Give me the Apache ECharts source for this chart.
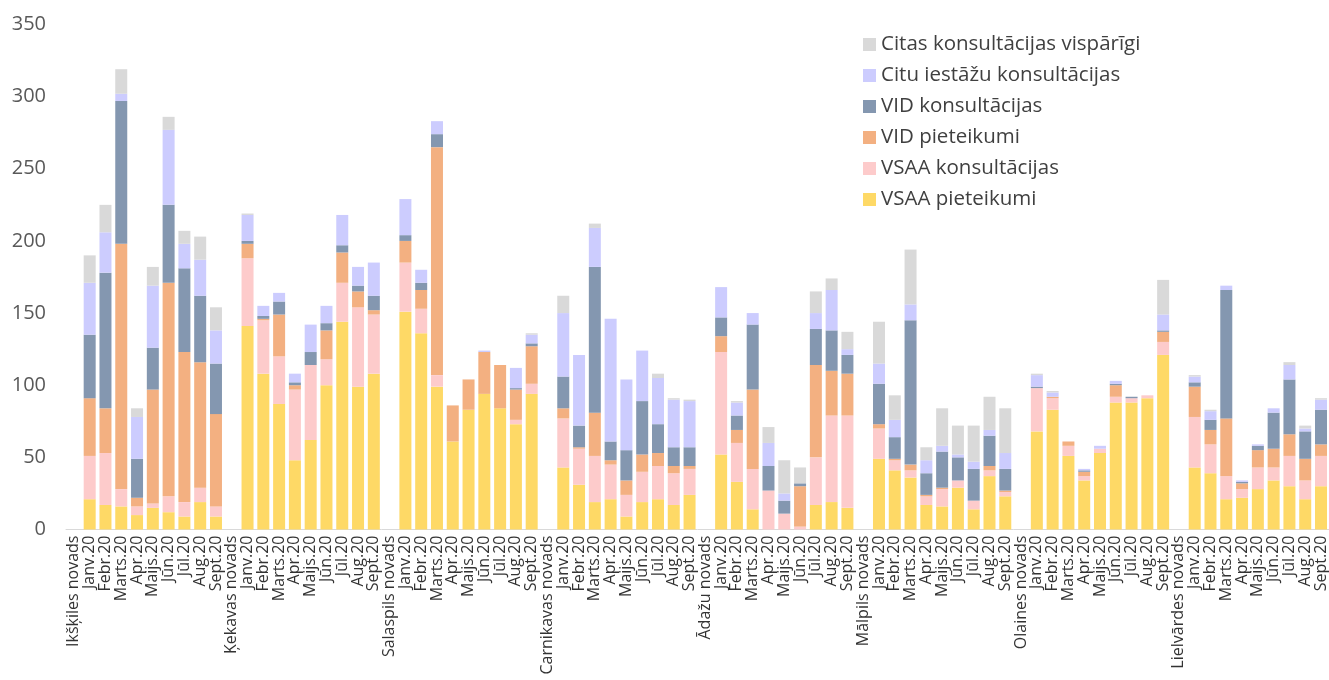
<!DOCTYPE html>
<html><head><meta charset="utf-8">
<script src="https://cdn.jsdelivr.net/npm/echarts@6/dist/echarts.min.js"></script>
<style>html,body{margin:0;padding:0;background:#fff}#c{width:1329px;height:680px}</style>
</head><body><div id="c"></div>
<script>
const groups = ['Ikšķiles novads','Ķekavas novads','Salaspils novads','Carnikavas novads','Ādažu novads','Mālpils novads','Olaines novads','Lielvārdes novads'];
const months = ['Janv.20','Febr.20','Marts.20','Apr.20','Maijs.20','Jūn.20','Jūl.20','Aug.20','Sept.20'];
const seriesNames = ['VSAA pieteikumi','VSAA konsultācijas','VID pieteikumi','VID konsultācijas','Citu iestāžu konsultācijas','Citas konsultācijas vispārīgi'];

// values per group, 9 months each (Janv..Sept)
const vsaaPieteikumi = [
 21,17,16,10,15,12,9,19,9,
 141,108,87,48,62,100,144,99,108,
 151,136,99,61,83,94,84,73,94,
 43,31,19,21,9,19,21,17,24,
 52,33,14,0,0,0,17,19,15,
 49,41,36,17,16,29,14,37,23,
 68,83,51,34,53,88,88,91,121,
 43,39,21,22,28,34,30,21,30];
const vsaaKonsultacijas = [
 30,36,12,6,3,11,10,10,7,
 47,37,33,49,52,18,27,55,41,
 34,17,8,0,0,0,0,3,7,
 34,25,32,24,15,21,23,22,18,
 71,27,28,27,11,2,33,60,64,
 21,7,5,6,12,5,6,4,3,
 30,8,7,3,3,4,3,2,9,
 35,20,16,6,15,9,21,13,21];
const vidPieteikumi = [
 40,31,170,6,79,148,104,87,64,
 10,1,29,3,0,20,21,11,3,
 15,13,158,25,21,29,30,21,26,
 7,1,30,3,10,12,9,5,2,
 11,9,55,0,0,28,64,31,29,
 3,1,4,1,1,0,0,3,1,
 0,1,3,3,0,8,0,0,7,
 21,10,40,4,12,13,15,15,8];
const vidKonsultacijas = [
 44,94,99,27,29,54,58,46,35,
 2,2,9,2,9,5,5,4,10,
 4,5,9,0,0,0,0,1,2,
 22,15,101,13,21,37,20,13,13,
 13,10,45,17,9,2,25,28,13,
 28,15,100,15,25,16,22,21,15,
 1,0,0,1,0,1,1,0,1,
 3,7,89,1,3,25,38,19,24];
const cituIestazu = [
 36,28,5,29,43,52,17,25,23,
 18,7,6,6,19,12,21,13,23,
 25,9,9,0,0,1,0,14,6,
 44,49,27,85,49,35,32,33,32,
 21,9,8,16,5,0,11,28,4,
 14,12,11,9,4,2,5,4,11,
 8,3,0,1,2,2,0,0,11,
 4,6,3,1,1,3,10,2,7];
const citasVisparigi = [
 19,19,17,6,13,9,9,16,16,
 1,0,0,0,0,0,0,0,0,
 0,0,0,0,0,0,0,0,1,
 12,0,3,0,0,0,3,1,1,
 0,1,0,11,23,11,15,8,12,
 29,17,38,9,26,20,25,23,31,
 1,1,0,0,0,0,0,0,24,
 1,1,0,0,0,0,2,2,1];

const colors = ['#FED966','#FDCBCB','#F3B081','#8497B0','#CCCCFE','#D9D9D9'];
const raw = [vsaaPieteikumi, vsaaKonsultacijas, vidPieteikumi, vidKonsultacijas, cituIestazu, citasVisparigi];

const categories = [];
groups.forEach(g => { categories.push(g); months.forEach(m => categories.push(m)); });
function expand(arr){
  const out = [];
  groups.forEach((g, gi) => { out.push('-'); for (let i = 0; i < months.length; i++) out.push(arr[gi*months.length + i]); });
  return out;
}

const FONT = 'Open Sans';
const chart = echarts.init(document.getElementById('c'), null, {renderer:'canvas'});
chart.setOption({
  animation:false,
  textStyle:{fontFamily:FONT},
  grid:{left:66, right:0, top:24.5, bottom:150.5, containLabel:false},
  legend:{
    orient:'vertical', left:858, top:29,
    itemWidth:13, itemHeight:13, itemGap:10, icon:'rect',
    textStyle:{fontSize:20.5, color:'#404040', fontFamily:FONT, lineHeight:20},
    data:seriesNames.slice().reverse()
  },
  xAxis:{
    type:'category', data:categories,
    axisTick:{show:false},
    axisLine:{lineStyle:{color:'#D9D9D9', width:1}},
    axisLabel:{interval:0, rotate:90, fontSize:16, color:'#333333', margin:6, fontFamily:FONT}
  },
  yAxis:{
    type:'value', min:0, max:350, interval:50,
    splitLine:{show:false},
    axisLine:{show:false}, axisTick:{show:false},
    axisLabel:{fontSize:20, color:'#595959', margin:20, fontFamily:FONT}
  },
  series: seriesNames.map((n, i) => ({
    name:n, type:'bar', stack:'total', barWidth:12,
    itemStyle:{color:colors[i]},
    data:expand(raw[i])
  }))
});
</script></body></html>
